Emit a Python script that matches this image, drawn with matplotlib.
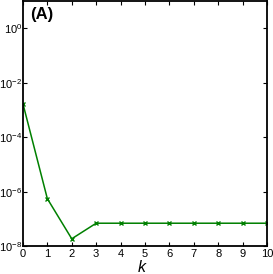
import matplotlib
matplotlib.use('Agg')
import matplotlib.pyplot as plt
import numpy as np

k = [0, 1, 2, 3, 4, 5, 6, 7, 8, 9, 10]
err = [1.7e-3, 5.5e-7, 1.85e-8, 6.9e-8, 6.9e-8, 6.9e-8, 6.9e-8, 6.9e-8, 6.9e-8, 6.9e-8, 6.9e-8]
yticks = [1e-8, 1e-6, 1e-4, 1e-2, 1e0]
ylabels = ['10$^{-8}$', '10$^{-6}$', '10$^{-4}$', '10$^{-2}$', '10$^{0}$']

plt.rcParams['font.family'] = ['Liberation Sans', 'DejaVu Sans']
plt.rcParams['mathtext.fontset'] = 'custom'
plt.rcParams['mathtext.rm'] = 'Liberation Sans'
plt.rcParams['mathtext.it'] = 'Liberation Sans:italic'

fig = plt.figure(figsize=(2.73, 2.74), dpi=100)
ax = fig.add_axes([0.084, 0.102, 0.894, 0.894])

ax.semilogy(k, err, color='#008000', lw=1.1, marker='x', ms=3, mew=1)
ax.set_xlim(0, 10)
ax.set_ylim(1e-8, 1e1)
ax.set_xticks(k)
ax.set_yticks(yticks)
ax.set_yticklabels(ylabels)
ax.minorticks_off()
ax.tick_params(direction='in', top=True, right=True, labelsize=8, length=3, width=0.8, pad=2)
ax.tick_params(axis='y', pad=0.5)
for s in ax.spines.values():
    s.set_linewidth(1.3)
ax.set_xlabel('$k$', fontsize=11.5)
ax.xaxis.set_label_coords(0.49, -0.051)
ax.text(0.03, 0.975, '(A)', transform=ax.transAxes, fontsize=12, fontweight='bold', va='top', ha='left')

fig.savefig('out.png', dpi=100)
